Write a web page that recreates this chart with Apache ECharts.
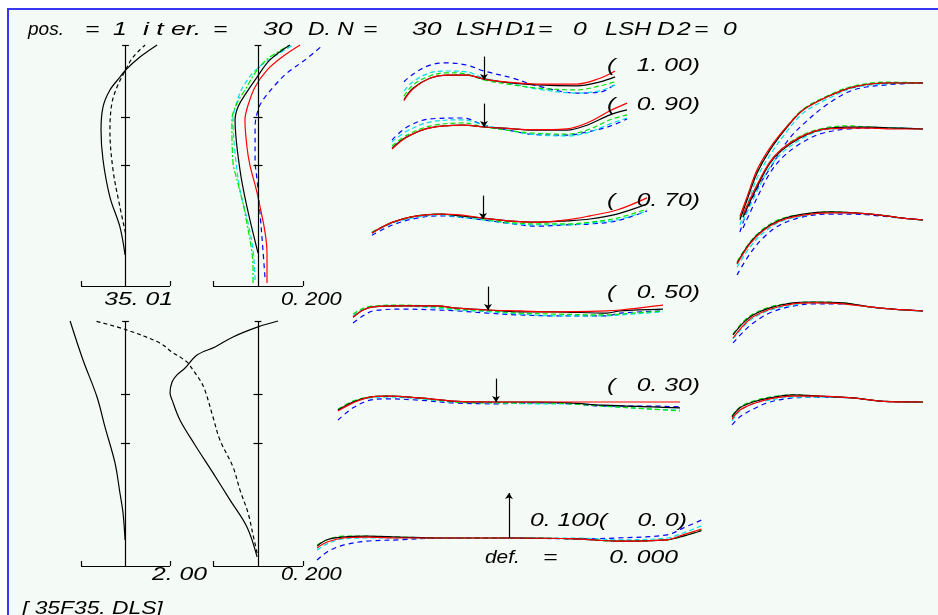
<!DOCTYPE html>
<html>
<head>
<meta charset="utf-8">
<script src="https://cdn.jsdelivr.net/npm/echarts@6/dist/echarts.min.js"></script>
<style>
  html, body { margin: 0; padding: 0; background: #ffffff; }
  #frame { position: absolute; left: 7px; top: 8px; width: 931px; height: 607px; box-sizing: border-box;
           background: #f4faf6; border-left: 2px solid #3838f2; border-top: 2px solid #3838f2; }
  #chart { position: absolute; left: 0; top: 0; width: 938px; height: 615px; }
</style>
</head>
<body>
<div id="frame"></div>
<div id="chart"></div>
<script>
// ---------------------------------------------------------------------------
// Longitudinal plots: [aberration, relative field height]
// ---------------------------------------------------------------------------
const astigSolid = [[-0.002,0.129],[-0.025,0.245],[-0.070,0.369],[-0.101,0.523],[-0.110,0.647],[-0.101,0.743],[-0.070,0.813],[-0.025,0.867],[0,0.896],[0.065,0.950],[0.142,1.0]];
const astigDashed = [[0,0.220],[-0.025,0.328],[-0.056,0.481],[-0.070,0.647],[-0.061,0.759],[-0.038,0.826],[0,0.896],[0.034,0.950],[0.088,1.0]];

const sphBlack = [[0,0.137],[-0.049,0.328],[-0.080,0.481],[-0.102,0.689],[-0.089,0.743],[-0.058,0.793],[-0.004,0.867],[0.053,0.938],[0.142,1.0]];
const sphRed = [[0.040,0.012],[0.040,0.137],[0,0.369],[-0.036,0.502],[-0.049,0.577],[-0.058,0.689],[-0.044,0.751],[-0.013,0.826],[0.040,0.896],[0.107,0.950],[0.187,1.0]];
const sphGreen = [[-0.022,0.012],[-0.022,0.066],[-0.058,0.303],[-0.093,0.440],[-0.111,0.510],[-0.116,0.689],[-0.093,0.759],[-0.058,0.813],[-0.004,0.896],[0.053,0.950],[0.142,1.0]];
const sphCyan = [[-0.013,0.025],[-0.022,0.149],[-0.044,0.261],[-0.080,0.398],[-0.102,0.552],[-0.111,0.689],[-0.098,0.751],[-0.067,0.826],[0,0.905],[0.156,1.0]];
const sphBlue = [[0.031,0.037],[0.022,0.149],[0.009,0.303],[-0.004,0.440],[-0.013,0.523],[-0.013,0.660],[0,0.730],[0.022,0.772],[0.076,0.834],[0.129,0.884],[0.209,0.938],[0.289,1.0]];

const distortion = [[-0.02,0.106],[-0.11,0.216],[-0.25,0.298],[-0.47,0.420],[-0.92,0.567],[-1.28,0.690],[-1.91,0.841],[-2.49,1.0]];

const coddSolid = [[-0.004,0.037],[-0.049,0.159],[-0.124,0.269],[-0.200,0.380],[-0.280,0.494],[-0.347,0.596],[-0.382,0.678],[-0.391,0.706],[-0.382,0.751],[-0.360,0.780],[-0.324,0.808],[-0.271,0.861],[-0.191,0.894],[-0.111,0.935],[0,0.976],[0.089,1.0]];
const coddDashed = [[-0.004,0.053],[-0.022,0.127],[-0.044,0.216],[-0.080,0.310],[-0.111,0.404],[-0.169,0.514],[-0.200,0.608],[-0.236,0.718],[-0.258,0.759],[-0.289,0.800],[-0.316,0.833],[-0.382,0.873],[-0.436,0.910],[-0.582,0.963],[-0.724,1.0]];

// ---------------------------------------------------------------------------
// Meridional ray fans: relative pupil coordinate, transverse aberration per colour
// rows: black, red, green, cyan, blue
// ---------------------------------------------------------------------------
const tanPupil100 = [-0.416,-0.369,-0.281,-0.192,-0.088,0,0.151,0.275,0.483,0.603,0.681];
const tanAb100 = [
  [-0.044,-0.018,0.004,0.011,0.011,0.002,-0.007,-0.011,-0.013,-0.004,0.007],
  [-0.046,-0.020,0.004,0.011,0.011,0.002,-0.006,-0.009,-0.009,0.004,0.020],
  [-0.036,-0.011,0.009,0.016,0.013,0.000,-0.011,-0.018,-0.022,-0.013,-0.004],
  [-0.024,-0.004,0.016,0.020,0.018,0.004,-0.009,-0.020,-0.029,-0.024,-0.011],
  [-0.004,0.013,0.033,0.038,0.033,0.020,0.004,-0.013,-0.029,-0.027,-0.009]
];
const tanPupil090 = [-0.478,-0.400,-0.281,-0.109,0,0.151,0.239,0.431,0.535,0.655,0.743];
const tanAb090 = [
  [-0.047,-0.022,-0.002,0.004,0,-0.004,-0.007,-0.007,0.004,0.027,0.038],
  [-0.049,-0.022,-0.002,0.004,0,-0.004,-0.006,-0.004,0.009,0.036,0.053],
  [-0.042,-0.018,0.002,0.009,0,-0.009,-0.013,-0.016,-0.007,0.016,0.027],
  [-0.033,-0.009,0.011,0.016,0.004,-0.009,-0.016,-0.020,-0.013,0.007,0.020],
  [-0.029,0.000,0.018,0.020,0.004,-0.009,-0.016,-0.018,-0.011,0.002,0.018]
];
const tanPupil070 = [-0.577,-0.468,-0.343,-0.223,-0.119,0,0.125,0.281,0.436,0.556,0.696,0.852];
const tanAb070 = [
  [-0.031,-0.007,0.007,0.011,0.007,0.002,-0.004,-0.007,-0.004,0,0.011,0.033],
  [-0.031,-0.007,0.007,0.011,0.009,0.002,-0.004,-0.007,-0.002,0.007,0.020,0.047],
  [-0.029,-0.007,0.007,0.011,0.007,0.000,-0.007,-0.011,-0.011,-0.007,0.002,0.022],
  [-0.031,-0.009,0.004,0.009,0.004,-0.002,-0.009,-0.013,-0.013,-0.009,-0.002,0.018],
  [-0.036,-0.013,0.002,0.007,0.004,-0.002,-0.009,-0.016,-0.013,-0.011,-0.004,0.018]
];
const tanPupil050 = [-0.701,-0.649,-0.597,-0.442,-0.265,-0.161,0,0.166,0.338,0.618,0.686,0.909];
const tanAb050 = [
  [-0.016,0,0.007,0.009,0.009,0.004,0,-0.004,-0.004,-0.007,-0.002,0.002],
  [-0.016,0,0.007,0.009,0.009,0.004,0,-0.002,-0.004,-0.002,0,0.011],
  [-0.009,0.004,0.009,0.011,0.007,0.002,-0.002,-0.007,-0.009,-0.011,-0.009,-0.002],
  [-0.013,0.002,0.007,0.009,0.004,0,-0.004,-0.009,-0.013,-0.013,-0.011,-0.004],
  [-0.029,-0.013,-0.002,0.002,0,-0.002,-0.007,-0.011,-0.013,-0.013,-0.007,-0.002]
];
const tanPupil030 = [-0.821,-0.743,-0.655,-0.566,-0.395,-0.223,0,0.213,0.384,0.556,0.816,0.956];
const tanAb030 = [
  [-0.018,0,0.011,0.013,0.009,0.002,0,0,-0.002,-0.007,-0.011,-0.013],
  [-0.020,-0.002,0.011,0.013,0.009,0.002,0,0,0,0,0,0],
  [-0.016,0.002,0.011,0.013,0.009,0,-0.002,-0.002,-0.004,-0.009,-0.016,-0.020],
  [-0.018,0,0.009,0.011,0.007,0,-0.002,-0.004,-0.004,-0.009,-0.016,-0.018],
  [-0.040,-0.013,0.004,0.007,0.004,-0.002,-0.004,-0.002,-0.004,-0.009,-0.009,-0.011]
];
const tanPupil000 = [-0.997,-0.945,-0.862,-0.738,-0.566,-0.358,0,0.353,0.561,0.821,0.904,1.0];
const tanAb000 = [
  [-0.018,-0.004,0.002,0.004,0.002,0,0,-0.002,-0.007,-0.004,0.004,0.016],
  [-0.022,-0.009,0,0.002,0,0,0,-0.002,-0.007,-0.004,0.007,0.020],
  [-0.016,-0.004,0.004,0.004,0.002,0,0,-0.002,-0.007,-0.004,0.004,0.018],
  [-0.027,-0.013,-0.002,0,0,0,0,0,-0.004,0,0.011,0.027],
  [-0.049,-0.031,-0.016,-0.007,-0.004,0,0,-0.002,0,0.007,0.022,0.040]
];

// ---------------------------------------------------------------------------
// Sagittal ray fans (half pupil)
// ---------------------------------------------------------------------------
const sagPupil100 = [-0.951,-0.914,-0.862,-0.795,-0.706,-0.623,-0.499,-0.364,-0.187,0];
const sagAb100 = [
  [-0.304,-0.260,-0.200,-0.149,-0.098,-0.060,-0.031,-0.009,0,0],
  [-0.296,-0.253,-0.193,-0.144,-0.096,-0.060,-0.031,-0.009,0,0],
  [-0.300,-0.255,-0.196,-0.146,-0.096,-0.058,-0.029,-0.007,0.002,0],
  [-0.315,-0.272,-0.211,-0.160,-0.107,-0.067,-0.036,-0.011,-0.002,0],
  [-0.331,-0.285,-0.235,-0.190,-0.130,-0.092,-0.048,-0.016,-0.004,0]
];
const sagPupil090 = [-0.935,-0.862,-0.795,-0.732,-0.639,-0.535,-0.395,-0.275,-0.135,0];
const sagAb090 = [
  [-0.196,-0.129,-0.076,-0.047,-0.020,-0.002,0.004,0.004,0.002,0],
  [-0.190,-0.124,-0.073,-0.044,-0.018,-0.002,0.002,0.002,0,0],
  [-0.193,-0.126,-0.073,-0.044,-0.016,0,0.007,0.004,0.002,0],
  [-0.205,-0.138,-0.084,-0.053,-0.024,-0.004,0.002,0.004,0.002,0],
  [-0.220,-0.153,-0.098,-0.064,-0.033,-0.011,0,0.002,0.002,0]
];
const sagPupil070 = [-0.966,-0.899,-0.831,-0.743,-0.623,-0.483,-0.364,-0.223,-0.104,0];
const sagAb070 = [
  [-0.096,-0.051,-0.022,0,0.013,0.018,0.016,0.011,0.004,0],
  [-0.098,-0.053,-0.024,-0.002,0.011,0.016,0.016,0.011,0.004,0],
  [-0.093,-0.049,-0.020,0.002,0.013,0.018,0.016,0.011,0.004,0],
  [-0.105,-0.060,-0.029,-0.004,0.009,0.016,0.016,0.011,0.004,0],
  [-0.122,-0.075,-0.040,-0.011,0.007,0.013,0.013,0.009,0.004,0]
];
const sagPupil050 = [-0.987,-0.935,-0.883,-0.795,-0.675,-0.571,-0.416,-0.275,-0.156,0];
const sagAb050 = [
  [-0.053,-0.027,-0.009,0.007,0.018,0.020,0.018,0.009,0.004,0],
  [-0.060,-0.033,-0.013,0.004,0.016,0.018,0.016,0.009,0.004,0],
  [-0.051,-0.024,-0.007,0.009,0.018,0.020,0.018,0.009,0.004,0],
  [-0.062,-0.036,-0.016,0.002,0.013,0.018,0.016,0.009,0.004,0],
  [-0.071,-0.047,-0.027,-0.004,0.011,0.016,0.016,0.009,0.004,0]
];
const sagPupil030 = [-0.992,-0.951,-0.883,-0.795,-0.675,-0.535,-0.364,-0.223,0];
const sagAb030 = [
  [-0.033,-0.013,0,0.009,0.016,0.013,0.009,0.002,0],
  [-0.038,-0.018,-0.004,0.007,0.013,0.013,0.009,0.002,0],
  [-0.031,-0.011,0.002,0.011,0.016,0.013,0.009,0.002,0],
  [-0.042,-0.020,-0.004,0.004,0.011,0.011,0.009,0.002,0],
  [-0.051,-0.033,-0.016,0,0.009,0.011,0.009,0.002,0]
];

const fieldLabels = ['1. 00', '0. 90', '0. 70', '0. 50', '0. 30'];
const fieldTicks = [0.5, 0.7, 1.0];
const fanScale = 0.1;

// ---------------------------------------------------------------------------
const WAVE_STYLE = [
  { color: '#000000', type: 'solid' },
  { color: '#ff0000', type: 'solid' },
  { color: '#00e400', type: [5, 3] },
  { color: '#00e0e6', type: [5, 3] },
  { color: '#0000ff', type: [5, 4] }
];
const DRAW_ORDER = [4, 3, 2, 0, 1];
const LW = 1.2;

const grids = [], xAxes = [], yAxes = [], series = [];

function panel(box, xr, yr) {
  const i = grids.length;
  grids.push({ left: box[0], top: box[1], width: box[2], height: box[3], containLabel: false, outerBoundsMode: 'none', show: false });
  xAxes.push({ gridIndex: i, type: 'value', min: xr[0], max: xr[1], show: false, splitLine: { show: false } });
  yAxes.push({ gridIndex: i, type: 'value', min: yr[0], max: yr[1], show: false, splitLine: { show: false } });
  return i;
}

// a field plot whose bar spans [-h, h] over barPx pixels centred on cx
function fieldPanel(cx, top, height, h, barPx, xr) {
  const ppu = barPx / (2 * h);
  return panel([cx + xr[0] * ppu, top, (xr[1] - xr[0]) * ppu, height], xr, [0, 1]);
}

function curve(gi, data, style, extra) {
  series.push(Object.assign({
    type: 'line', xAxisIndex: gi, yAxisIndex: gi, data: data,
    symbol: 'none', showSymbol: false, smooth: 0.35, clip: false, silent: true, animation: false,
    lineStyle: { width: LW, color: style.color, type: style.type }
  }, extra || {}));
}

function segLines(segs, symbols, size) {
  return {
    silent: true, animation: false,
    symbol: symbols || ['none', 'none'], symbolSize: size || 6,
    label: { show: false }, emphasis: { disabled: true },
    lineStyle: { color: '#000000', width: LW, type: 'solid' },
    data: segs.map(s => [{ coord: s[0] }, { coord: s[1] }])
  };
}

// bar along the bottom, vertical field axis with cross ticks
function skeleton(h, barPx, heightPx) {
  const t = 4.5 * 2 * h / barPx;
  const up = 5 / heightPx;
  const segs = [
    [[-h, 0], [h, 0]], [[-h, 0], [-h, up]], [[h, 0], [h, up]],
    [[0, 0], [0, 1]]
  ];
  fieldTicks.forEach(f => {
    const w = f === 1.0 ? t * 0.75 : t;
    segs.push([[-w, f], [w, f]]);
  });
  return segLines(segs);
}

const black = WAVE_STYLE[0];
const dashBlack = { color: '#000000', type: [4, 3] };

// astigmatism
let g = fieldPanel(125.5, 45, 241, 0.2, 89, [-0.2, 0.2]);
curve(g, astigDashed, dashBlack);
curve(g, astigSolid, black, { markLine: skeleton(0.2, 89, 241) });

// longitudinal aberration per colour
g = fieldPanel(258, 45, 241, 0.2, 90, [-0.2, 0.4]);
curve(g, sphBlue, WAVE_STYLE[4]);
curve(g, sphCyan, WAVE_STYLE[3]);
curve(g, sphGreen, { color: '#00e400', type: [6, 2, 2, 2] });
curve(g, sphBlack, black, { markLine: skeleton(0.2, 90, 241) });
curve(g, sphRed, WAVE_STYLE[1]);

// distortion
g = fieldPanel(125.5, 321, 245, 2, 89, [-2.8, 2]);
curve(g, distortion, black, { markLine: skeleton(2, 89, 245) });

// lower-right field plot
g = fieldPanel(258, 321, 245, 0.2, 90, [-0.8, 0.2]);
curve(g, coddDashed, dashBlack);
curve(g, coddSolid, black, { markLine: skeleton(0.2, 90, 245) });

// meridional fans: [pupil, values, chief-ray x, chief-ray y]
const tanFans = [
  [tanPupil100, tanAb100, 484, 80],
  [tanPupil090, tanAb090, 484, 127],
  [tanPupil070, tanAb070, 483, 219],
  [tanPupil050, tanAb050, 488, 310],
  [tanPupil030, tanAb030, 496, 402],
  [tanPupil000, tanAb000, 509, 538]
];
const pupilPx = 192.5;
const abPx = 45 / fanScale;
tanFans.forEach((f, k) => {
  const gi = panel([f[2] - pupilPx, f[3] - fanScale * abPx, 2 * pupilPx, 2 * fanScale * abPx], [-1, 1], [-fanScale, fanScale]);
  DRAW_ORDER.forEach(c => {
    const data = f[0].map((x, i) => [x, f[1][c][i]]);
    let extra;
    if (c === 0) {
      extra = k < 5
        ? { markLine: segLines([[[0, fanScale * 0.52], [0, 0]]], ['none', 'arrow'], 6) }
        : { markLine: segLines([[[0, 0], [0, fanScale]]], ['none', 'arrow'], 6) };
    }
    curve(gi, data, WAVE_STYLE[c], extra);
  });
});

// sagittal fans
const sagFans = [
  [sagPupil100, sagAb100, 83],
  [sagPupil090, sagAb090, 129],
  [sagPupil070, sagAb070, 220],
  [sagPupil050, sagAb050, 311],
  [sagPupil030, sagAb030, 402]
];
sagFans.forEach(f => {
  const gi = panel([923 - pupilPx, f[2] - 0.1 * abPx, pupilPx, 0.45 * abPx], [-1, 0], [-0.35, 0.1]);
  DRAW_ORDER.forEach(c => {
    curve(gi, f[0].map((x, i) => [x, f[1][c][i]]), WAVE_STYLE[c]);
  });
});

// ---------------------------------------------------------------------------
// text
const FONT = 'italic 19px "Liberation Sans", Arial, sans-serif';
function txt(x, y, s, align, sx) {
  return {
    type: 'text', x: x, y: y, scaleX: sx || 1.3, silent: true, z: 10,
    style: { text: s, fill: '#000000', font: FONT,
             align: align || 'left', textAlign: align || 'left',
             verticalAlign: 'middle', textVerticalAlign: 'middle' }
  };
}
const T = 30;
const texts = [
  txt(28, T, 'pos.', 'left', 1.0), txt(85, T, '='), txt(113, T, '1'), txt(143, T, 'i t er.', 'left', 1.4), txt(213, T, '='),
  txt(263, T, '30', 'left', 1.4), txt(308, T, 'D. N', 'left', 1.2), txt(363, T, '='), txt(412, T, '30', 'left', 1.4),
  txt(456, T, 'LSH', 'left', 1.25), txt(505, T, 'D', 'left', 1.3), txt(523, T, '1'), txt(538, T, '='), txt(573, T, '0'),
  txt(605, T, 'LSH', 'left', 1.25), txt(657, T, 'D', 'left', 1.3), txt(677, T, '2'), txt(694, T, '='), txt(723, T, '0'),
  txt(173, 300, '35. 01', 'right'), txt(281, 300, '0. 200', 'left', 1.15),
  txt(207, 575, '2. 00', 'right'), txt(281, 575, '0. 200', 'left', 1.15),
  txt(22, 609, '[ 35F35. DLS]', 'left', 1.2),
  txt(530, 521, '0. ' + (fanScale * 1000).toFixed(0) + '('), txt(687, 521, '0. 0)', 'right'),
  txt(485, 558, 'def.', 'left', 1.1), txt(543, 558, '='), txt(678, 558, '0. 000', 'right')
];
const labelY = [66, 105, 201, 293, 386];
fieldLabels.forEach((s, i) => {
  texts.push(txt(607, labelY[i], '('));
  texts.push(txt(700, labelY[i], s + ')', 'right'));
});

const chart = echarts.init(document.getElementById('chart'), null, { renderer: 'canvas' });
chart.setOption({
  animation: false,
  backgroundColor: 'transparent',
  grid: grids,
  xAxis: xAxes,
  yAxis: yAxes,
  series: series,
  graphic: { elements: texts }
});
</script>
</body>
</html>
